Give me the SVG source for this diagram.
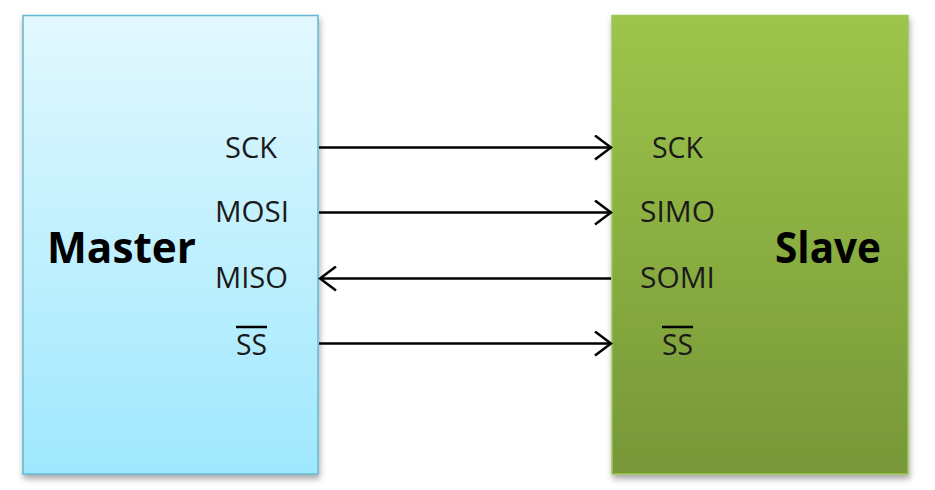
<svg xmlns="http://www.w3.org/2000/svg" width="935" height="490" viewBox="0 0 935 490">
<style>
.lbl{font-family:"Open Sans","Liberation Sans",sans-serif;font-size:29px;fill:#1a1a1a}
.big{font-family:"Open Sans","Liberation Sans",sans-serif;font-size:43px;font-weight:bold;fill:#000}
.wire{stroke:#000;stroke-width:2.5;fill:none}
.bar{stroke:#000;stroke-width:2.5}
</style>
<defs>
<linearGradient id="gm" x1="0" y1="0" x2="0" y2="1">
<stop offset="0" stop-color="#E2F8FE"/>
<stop offset="1" stop-color="#9FE8FE"/>
</linearGradient>
<linearGradient id="gs" x1="0" y1="0" x2="0" y2="1">
<stop offset="0" stop-color="#9DC54B"/>
<stop offset="1" stop-color="#779738"/>
</linearGradient>
<filter id="sh" x="-10%" y="-10%" width="120%" height="120%">
<feDropShadow dx="1" dy="4" stdDeviation="3" flood-color="#000" flood-opacity="0.35"/>
</filter>
<marker id="ah" viewBox="0 0 20 26" refX="18" refY="13" markerWidth="20" markerHeight="26" markerUnits="userSpaceOnUse" orient="auto">
<path d="M2,1 L18,13 L2,25" fill="none" stroke="#000" stroke-width="2.5"/>
</marker>
</defs>
<g id="master">
<rect x="23" y="15.5" width="295" height="458.5" fill="url(#gm)" stroke="#62B8D2" stroke-width="1.5" filter="url(#sh)"/>
<text class="big" x="47" y="263" textLength="149" lengthAdjust="spacingAndGlyphs">Master</text>
<text class="lbl" x="225" y="158" textLength="52" lengthAdjust="spacingAndGlyphs">SCK</text>
<text class="lbl" x="215" y="222" textLength="74" lengthAdjust="spacingAndGlyphs">MOSI</text>
<text class="lbl" x="215" y="288" textLength="73" lengthAdjust="spacingAndGlyphs">MISO</text>
<text class="lbl" x="236" y="355" textLength="31" lengthAdjust="spacingAndGlyphs">SS</text>
<line class="bar" x1="236" y1="327" x2="267" y2="327"/>
</g>
<g id="slave">
<rect x="612" y="15.5" width="296" height="458.5" fill="url(#gs)" stroke="#9CC655" stroke-width="1.5" filter="url(#sh)"/>
<text class="big" x="775" y="263" textLength="106" lengthAdjust="spacingAndGlyphs">Slave</text>
<text class="lbl" x="652" y="158" textLength="51" lengthAdjust="spacingAndGlyphs">SCK</text>
<text class="lbl" x="640" y="222" textLength="75" lengthAdjust="spacingAndGlyphs">SIMO</text>
<text class="lbl" x="640" y="288" textLength="75" lengthAdjust="spacingAndGlyphs">SOMI</text>
<text class="lbl" x="662" y="355" textLength="31" lengthAdjust="spacingAndGlyphs">SS</text>
<line class="bar" x1="662" y1="327" x2="693" y2="327"/>
</g>
<g id="connectors">
<line class="wire" x1="319" y1="147.5" x2="611" y2="147.5" marker-end="url(#ah)"/>
<line class="wire" x1="319" y1="212.5" x2="611" y2="212.5" marker-end="url(#ah)"/>
<line class="wire" x1="611" y1="278.5" x2="320" y2="278.5" marker-end="url(#ah)"/>
<line class="wire" x1="319" y1="343.5" x2="611" y2="343.5" marker-end="url(#ah)"/>
</g>
</svg>
